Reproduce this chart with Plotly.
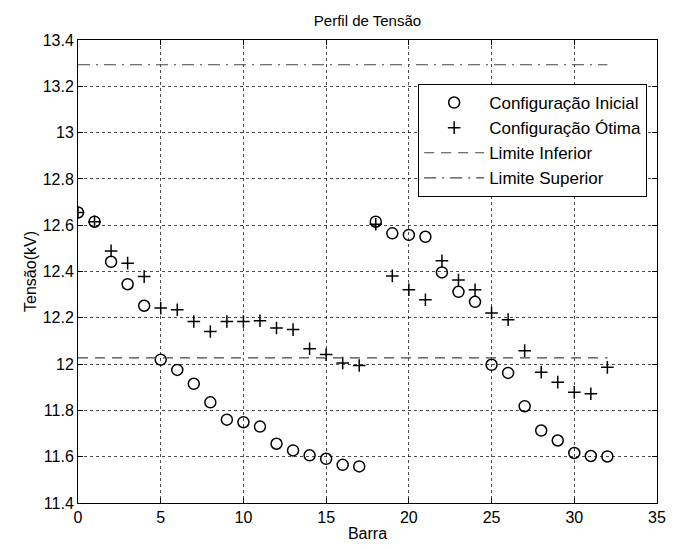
import plotly.graph_objects as go

barras = list(range(33))
v_inicial = [12.655, 12.615, 12.442, 12.345, 12.252, 12.019, 11.975, 11.915, 11.835, 11.760,
             11.749, 11.730, 11.656, 11.627, 11.606, 11.591, 11.565, 11.558, 12.615, 12.565,
             12.558, 12.550, 12.396, 12.312, 12.269, 11.997, 11.962, 11.818, 11.713, 11.670,
             11.616, 11.603, 11.601]
v_otima = [12.655, 12.615, 12.489, 12.436, 12.378, 12.242, 12.235, 12.184, 12.141, 12.184,
           12.184, 12.187, 12.156, 12.149, 12.066, 12.041, 12.005, 11.994, 12.604, 12.381,
           12.321, 12.278, 12.446, 12.363, 12.321, 12.221, 12.192, 12.058, 11.965, 11.922,
           11.878, 11.872, 11.986]
limite_x = [0, 32]
limite_inferior = [12.027, 12.027]
limite_superior = [13.293, 13.293]

FONT = "Liberation Sans, Arial, Helvetica, sans-serif"

fig = go.Figure()
fig.add_trace(go.Scatter(x=barras, y=v_inicial, mode="markers", name="Configuração Inicial",
                         marker=dict(symbol="circle-open", size=11, color="black",
                                     line=dict(width=1.5, color="black"))))
fig.add_trace(go.Scatter(x=barras, y=v_otima, mode="markers", name="Configuração Ótima",
                         marker=dict(symbol="cross-thin-open", size=9, color="black",
                                     line=dict(width=1.5, color="black"))))
fig.add_trace(go.Scatter(x=limite_x, y=limite_inferior, mode="lines", name="Limite Inferior",
                         line=dict(color="#444", width=1.2, dash="10px,7px")))
fig.add_trace(go.Scatter(x=limite_x, y=limite_superior, mode="lines", name="Limite Superior",
                         line=dict(color="#444", width=1.2, dash="12px,6px,2px,6px")))

axis_common = dict(
    showline=True, linecolor="black", linewidth=1, mirror="ticks",
    ticks="inside", ticklen=5, tickcolor="black",
    showgrid=True, gridcolor="rgba(0,0,0,0.7)", griddash="dot", gridwidth=1.3,
    zeroline=False, tickfont=dict(family=FONT, size=16, color="black"),
)

# page body has an 8px default margin; figure sized to fill the rest of the window
fig.update_layout(
    width=667, height=541,
    margin=dict(l=70, r=9, t=32, b=46),
    paper_bgcolor="white", plot_bgcolor="white",
    font=dict(family=FONT, size=16, color="black"),
    title=dict(text="Perfil de Tensão", x=0.5, xanchor="center", xref="paper",
               y=1 - 13 / 541, yref="container", yanchor="middle",
               font=dict(family=FONT, size=15, color="black")),
    xaxis=dict(range=[0, 35], tickvals=[0, 5, 10, 15, 20, 25, 30, 35],
               title=dict(text="Barra", standoff=2, font=dict(family=FONT, size=16)),
               **axis_common),
    yaxis=dict(range=[11.4, 13.4], tickvals=[11.4, 11.6, 11.8, 12, 12.2, 12.4, 12.6, 12.8, 13, 13.2, 13.4],
               ticktext=["11.4", "11.6", "11.8", "12", "12.2", "12.4", "12.6", "12.8", "13", "13.2", "13.4"],
               title=dict(text="Tensão(kV)", standoff=2, font=dict(family=FONT, size=16)),
               **axis_common),
    legend=dict(x=0.983, xanchor="right", y=0.905, yanchor="top",
                bgcolor="white", bordercolor="black", borderwidth=1,
                font=dict(family=FONT, size=17, color="black"),
                itemwidth=60, tracegroupgap=0),
    showlegend=True,
)

fig.write_html("out.html", config={"displayModeBar": False})
